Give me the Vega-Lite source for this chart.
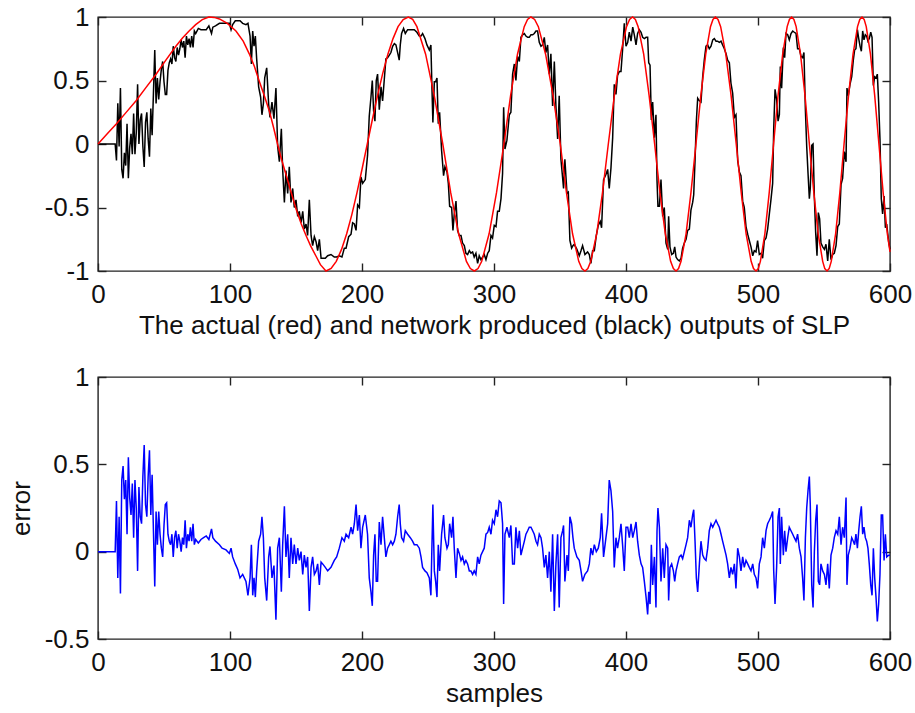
{
"$schema":"https://vega.github.io/schema/vega-lite/v6.json",
"background":"white",
"padding":{"left":7,"top":3,"right":10,"bottom":5},
"spacing":24,
"config":{"view":{"stroke":"#222","strokeWidth":1.4},"axis":{"grid":false,"domain":false,"labelFont":"Liberation Sans","labelFontSize":26,"labelColor":"#111","titleFont":"Liberation Sans","titleFontSize":26,"titleFontWeight":"normal","titleColor":"#111","tickColor":"#222","tickWidth":1.4,"tickSize":-8,"labelFlush":false,"labelOverlap":false}},
"datasets":{
"actual":[{"t":0,"v":0},{"t":7,"v":0.08},{"t":14,"v":0.16},{"t":21,"v":0.245},{"t":29,"v":0.343},{"t":36,"v":0.44},{"t":44,"v":0.549},{"t":51,"v":0.655},{"t":59,"v":0.77},{"t":64,"v":0.835},{"t":69,"v":0.89},{"t":74,"v":0.94},{"t":79,"v":0.98},{"t":84,"v":1},{"t":88,"v":0.997},{"t":92,"v":0.985},{"t":98,"v":0.95},{"t":104.5,"v":0.89},{"t":110,"v":0.81},{"t":114.6,"v":0.71},{"t":118.5,"v":0.61},{"t":122,"v":0.5},{"t":126,"v":0.38},{"t":129.8,"v":0.26},{"t":133,"v":0.13},{"t":136,"v":0},{"t":139,"v":-0.12},{"t":142.4,"v":-0.24},{"t":146,"v":-0.37},{"t":150,"v":-0.51},{"t":154,"v":-0.63},{"t":157.6,"v":-0.72},{"t":161,"v":-0.8},{"t":165,"v":-0.88},{"t":168.5,"v":-0.95},{"t":172.7,"v":-1},{"t":176.6,"v":-0.98},{"t":180.5,"v":-0.924},{"t":184.5,"v":-0.83},{"t":188.4,"v":-0.707},{"t":192.3,"v":-0.556},{"t":196.2,"v":-0.383},{"t":200.1,"v":-0.195},{"t":204,"v":0},{"t":207.9,"v":0.195},{"t":211.8,"v":0.383},{"t":215.7,"v":0.556},{"t":219.6,"v":0.707},{"t":223.5,"v":0.83},{"t":227.3,"v":0.924},{"t":231.2,"v":0.98},{"t":235.1,"v":1},{"t":238.4,"v":0.981},{"t":241.6,"v":0.924},{"t":248.2,"v":0.707},{"t":254.7,"v":0.383},{"t":261.2,"v":0},{"t":267.2,"v":-0.383},{"t":273.2,"v":-0.707},{"t":279.1,"v":-0.924},{"t":282.1,"v":-0.981},{"t":285.1,"v":-1},{"t":287.9,"v":-0.981},{"t":290.7,"v":-0.924},{"t":296.3,"v":-0.707},{"t":301.9,"v":-0.383},{"t":307.5,"v":0},{"t":312.6,"v":0.383},{"t":317.8,"v":0.707},{"t":322.9,"v":0.924},{"t":325.4,"v":0.981},{"t":328,"v":1},{"t":330.8,"v":0.981},{"t":333.6,"v":0.924},{"t":339.1,"v":0.707},{"t":344.7,"v":0.383},{"t":350.2,"v":0},{"t":354.9,"v":-0.383},{"t":359.5,"v":-0.707},{"t":364.2,"v":-0.924},{"t":366.6,"v":-0.981},{"t":368.9,"v":-1},{"t":371.1,"v":-0.981},{"t":373.3,"v":-0.924},{"t":377.8,"v":-0.707},{"t":382.2,"v":-0.383},{"t":386.6,"v":0},{"t":391.2,"v":0.383},{"t":395.8,"v":0.707},{"t":400.4,"v":0.924},{"t":402.7,"v":0.981},{"t":405,"v":1},{"t":407.1,"v":0.981},{"t":409.2,"v":0.924},{"t":413.4,"v":0.707},{"t":417.5,"v":0.383},{"t":421.7,"v":0},{"t":425.7,"v":-0.383},{"t":429.8,"v":-0.707},{"t":433.8,"v":-0.924},{"t":435.9,"v":-0.981},{"t":437.9,"v":-1},{"t":439.8,"v":-0.981},{"t":441.7,"v":-0.924},{"t":445.5,"v":-0.707},{"t":449.2,"v":-0.383},{"t":453,"v":0},{"t":456.7,"v":0.383},{"t":460.4,"v":0.707},{"t":464,"v":0.924},{"t":465.9,"v":0.981},{"t":467.7,"v":1},{"t":469.7,"v":0.981},{"t":471.7,"v":0.924},{"t":475.6,"v":0.707},{"t":479.6,"v":0.383},{"t":483.5,"v":0},{"t":487.3,"v":-0.383},{"t":491,"v":-0.707},{"t":494.8,"v":-0.924},{"t":496.6,"v":-0.981},{"t":498.5,"v":-1},{"t":500.2,"v":-0.981},{"t":501.8,"v":-0.924},{"t":505.2,"v":-0.707},{"t":508.5,"v":-0.383},{"t":511.8,"v":0},{"t":515.2,"v":0.383},{"t":518.7,"v":0.707},{"t":522.1,"v":0.924},{"t":523.8,"v":0.981},{"t":525.5,"v":1},{"t":527.2,"v":0.981},{"t":528.9,"v":0.924},{"t":532.2,"v":0.707},{"t":535.6,"v":0.383},{"t":538.9,"v":0},{"t":542.3,"v":-0.383},{"t":545.6,"v":-0.707},{"t":549,"v":-0.924},{"t":550.6,"v":-0.981},{"t":552.3,"v":-1},{"t":553.9,"v":-0.981},{"t":555.5,"v":-0.924},{"t":558.8,"v":-0.707},{"t":562,"v":-0.383},{"t":565.2,"v":0},{"t":568.6,"v":0.383},{"t":572,"v":0.707},{"t":575.4,"v":0.924},{"t":577.1,"v":0.981},{"t":578.8,"v":1},{"t":580.4,"v":0.981},{"t":582,"v":0.924},{"t":585.2,"v":0.707},{"t":588.4,"v":0.383},{"t":591.6,"v":0},{"t":594.8,"v":-0.383},{"t":598,"v":-0.707},{"t":600,"v":-0.85}],
"network":[{"t":0,"v":0},{"t":13,"v":0},{"t":14,"v":-0.13},{"t":15,"v":0.32},{"t":16,"v":-0.02},{"t":17,"v":0.44},{"t":18,"v":-0.2},{"t":19,"v":-0.27},{"t":20,"v":-0.07},{"t":21,"v":-0.17},{"t":22,"v":0.16},{"t":23,"v":-0.27},{"t":24,"v":-0.03},{"t":25,"v":0.08},{"t":26,"v":-0.08},{"t":27,"v":0.24},{"t":28,"v":-0.08},{"t":29,"v":0.09},{"t":30,"v":0.47},{"t":31,"v":0},{"t":32,"v":0.19},{"t":33,"v":0.24},{"t":34,"v":-0.02},{"t":35,"v":-0.18},{"t":36,"v":0.17},{"t":37,"v":0.25},{"t":38,"v":0.04},{"t":39,"v":-0.1},{"t":40,"v":0.28},{"t":41,"v":0.07},{"t":42,"v":0.4},{"t":43,"v":0.74},{"t":44,"v":0.32},{"t":45,"v":0.52},{"t":46,"v":0.35},{"t":47,"v":0.49},{"t":48,"v":0.59},{"t":49,"v":0.65},{"t":50,"v":0.49},{"t":51,"v":0.39},{"t":52,"v":0.39},{"t":53,"v":0.58},{"t":54,"v":0.64},{"t":55,"v":0.67},{"t":56,"v":0.63},{"t":57,"v":0.77},{"t":58,"v":0.68},{"t":59,"v":0.65},{"t":60,"v":0.76},{"t":61,"v":0.7},{"t":62,"v":0.75},{"t":63,"v":0.82},{"t":64,"v":0.76},{"t":65,"v":0.81},{"t":66,"v":0.68},{"t":67,"v":0.85},{"t":68,"v":0.78},{"t":69,"v":0.83},{"t":70,"v":0.76},{"t":71,"v":0.85},{"t":72,"v":0.76},{"t":73,"v":0.89},{"t":74,"v":0.87},{"t":76,"v":0.91},{"t":78,"v":0.9},{"t":80,"v":0.9},{"t":82,"v":0.9},{"t":84,"v":0.93},{"t":86,"v":0.87},{"t":87,"v":0.92},{"t":89,"v":0.93},{"t":92,"v":0.95},{"t":94,"v":0.95},{"t":97,"v":0.95},{"t":99.5,"v":0.95},{"t":100.8,"v":0.9},{"t":102,"v":0.94},{"t":104,"v":0.97},{"t":105.8,"v":0.97},{"t":107.6,"v":0.97},{"t":109.6,"v":0.95},{"t":112.1,"v":0.94},{"t":113.6,"v":0.95},{"t":115.2,"v":0.85},{"t":116.2,"v":0.63},{"t":117.2,"v":0.89},{"t":118.2,"v":0.77},{"t":119.2,"v":0.85},{"t":120.2,"v":0.67},{"t":121.7,"v":0.45},{"t":123.2,"v":0.37},{"t":124.2,"v":0.23},{"t":125.3,"v":0.32},{"t":126.3,"v":0.52},{"t":127.8,"v":0.6},{"t":129.3,"v":0.31},{"t":130.3,"v":0.21},{"t":131.8,"v":0.33},{"t":133.3,"v":0.2},{"t":134.8,"v":0.44},{"t":136.1,"v":-0.02},{"t":137.4,"v":-0.14},{"t":138.9,"v":0.12},{"t":139.9,"v":-0.2},{"t":141.2,"v":-0.46},{"t":142.4,"v":-0.21},{"t":143.7,"v":-0.39},{"t":144.9,"v":-0.18},{"t":146.2,"v":-0.46},{"t":147.5,"v":-0.35},{"t":148.7,"v":-0.5},{"t":150,"v":-0.44},{"t":151.3,"v":-0.57},{"t":152.5,"v":-0.53},{"t":153.8,"v":-0.62},{"t":155.1,"v":-0.53},{"t":156.3,"v":-0.67},{"t":157.6,"v":-0.63},{"t":158.8,"v":-0.72},{"t":160.1,"v":-0.44},{"t":161.4,"v":-0.72},{"t":162.6,"v":-0.8},{"t":163.9,"v":-0.73},{"t":165.2,"v":-0.77},{"t":166.4,"v":-0.84},{"t":167.7,"v":-0.75},{"t":169,"v":-0.9},{"t":170.2,"v":-0.9},{"t":172.2,"v":-0.9},{"t":174,"v":-0.88},{"t":176.5,"v":-0.87},{"t":179,"v":-0.89},{"t":180.8,"v":-0.89},{"t":182.8,"v":-0.88},{"t":184.8,"v":-0.89},{"t":186.6,"v":-0.82},{"t":187.9,"v":-0.82},{"t":189.9,"v":-0.73},{"t":191.7,"v":-0.71},{"t":192.9,"v":-0.62},{"t":194.2,"v":-0.63},{"t":195.5,"v":-0.68},{"t":196.7,"v":-0.48},{"t":198,"v":-0.5},{"t":199.2,"v":-0.26},{"t":200.5,"v":-0.31},{"t":202.5,"v":-0.28},{"t":204.2,"v":-0.09},{"t":205.5,"v":0.22},{"t":206.8,"v":0.37},{"t":207.8,"v":0.5},{"t":208.8,"v":0.26},{"t":209.8,"v":0.18},{"t":210.8,"v":0.5},{"t":211.8,"v":0.55},{"t":213.1,"v":0.27},{"t":214.4,"v":0.45},{"t":215.6,"v":0.34},{"t":216.9,"v":0.51},{"t":218.1,"v":0.67},{"t":219.4,"v":0.68},{"t":220.7,"v":0.7},{"t":221.9,"v":0.72},{"t":223.2,"v":0.77},{"t":224.5,"v":0.79},{"t":225.7,"v":0.78},{"t":227,"v":0.72},{"t":228.2,"v":0.66},{"t":229,"v":0.78},{"t":230,"v":0.87},{"t":231.5,"v":0.91},{"t":232.8,"v":0.87},{"t":234.6,"v":0.9},{"t":236.6,"v":0.9},{"t":238.3,"v":0.9},{"t":239.6,"v":0.9},{"t":241.6,"v":0.88},{"t":243.4,"v":0.85},{"t":244.7,"v":0.85},{"t":245.9,"v":0.87},{"t":247.7,"v":0.83},{"t":249.2,"v":0.78},{"t":251,"v":0.74},{"t":252.2,"v":0.78},{"t":253,"v":0.44},{"t":253.7,"v":0.17},{"t":254.8,"v":0.49},{"t":255.8,"v":0.49},{"t":256.8,"v":0.52},{"t":257.8,"v":0.16},{"t":258.8,"v":0.25},{"t":260.3,"v":-0.05},{"t":261.8,"v":-0.25},{"t":262.8,"v":-0.18},{"t":264.4,"v":-0.22},{"t":265.4,"v":-0.31},{"t":266.4,"v":-0.49},{"t":267.9,"v":-0.5},{"t":268.9,"v":-0.68},{"t":269.9,"v":-0.55},{"t":271.2,"v":-0.45},{"t":272.4,"v":-0.68},{"t":273.7,"v":-0.72},{"t":275,"v":-0.72},{"t":276.2,"v":-0.78},{"t":277.5,"v":-0.8},{"t":278.7,"v":-0.86},{"t":280,"v":-0.87},{"t":281.3,"v":-0.84},{"t":282.5,"v":-0.86},{"t":283.8,"v":-0.85},{"t":285,"v":-0.89},{"t":286.3,"v":-0.86},{"t":287.6,"v":-0.94},{"t":288.8,"v":-0.88},{"t":290.1,"v":-0.91},{"t":292.6,"v":-0.87},{"t":293.9,"v":-0.91},{"t":295.2,"v":-0.86},{"t":296.4,"v":-0.84},{"t":297.7,"v":-0.72},{"t":298.9,"v":-0.74},{"t":300.2,"v":-0.64},{"t":301.5,"v":-0.65},{"t":302.7,"v":-0.53},{"t":304,"v":-0.53},{"t":305.3,"v":-0.43},{"t":306.5,"v":-0.23},{"t":307.3,"v":0.29},{"t":308.3,"v":-0.04},{"t":309.8,"v":0.03},{"t":311.6,"v":0.23},{"t":312.8,"v":0.25},{"t":314.1,"v":0.55},{"t":315.4,"v":0.63},{"t":316.6,"v":0.5},{"t":317.9,"v":0.69},{"t":319.2,"v":0.65},{"t":320.4,"v":0.84},{"t":321.7,"v":0.86},{"t":323,"v":0.87},{"t":324.2,"v":0.85},{"t":325.5,"v":0.84},{"t":326.7,"v":0.84},{"t":328,"v":0.86},{"t":329.3,"v":0.86},{"t":330.5,"v":0.87},{"t":331.8,"v":0.89},{"t":333,"v":0.89},{"t":334.3,"v":0.8},{"t":335.6,"v":0.77},{"t":336.8,"v":0.78},{"t":338.1,"v":0.84},{"t":339.3,"v":0.72},{"t":340.6,"v":0.78},{"t":341.9,"v":0.55},{"t":343.1,"v":0.71},{"t":344.4,"v":0.3},{"t":345.7,"v":0.65},{"t":346.9,"v":0.3},{"t":348.2,"v":0.04},{"t":349.4,"v":0.38},{"t":350.7,"v":-0.12},{"t":352,"v":-0.27},{"t":352.7,"v":-0.35},{"t":353.7,"v":-0.12},{"t":355.3,"v":-0.39},{"t":356.3,"v":-0.38},{"t":357.5,"v":-0.76},{"t":358.8,"v":-0.82},{"t":359.8,"v":-0.8},{"t":360.8,"v":-0.79},{"t":362.8,"v":-0.83},{"t":364.6,"v":-0.88},{"t":365.9,"v":-0.84},{"t":367.1,"v":-0.8},{"t":368.9,"v":-0.87},{"t":370.9,"v":-0.85},{"t":372.2,"v":-0.87},{"t":373.4,"v":-0.94},{"t":374.7,"v":-0.84},{"t":376,"v":-0.84},{"t":377.5,"v":-0.72},{"t":379,"v":-0.64},{"t":380.5,"v":-0.61},{"t":381.5,"v":-0.66},{"t":383,"v":-0.28},{"t":384.8,"v":-0.24},{"t":386.1,"v":-0.2},{"t":387.3,"v":-0.35},{"t":388.6,"v":-0.19},{"t":389.9,"v":0.05},{"t":391.1,"v":0.47},{"t":392.4,"v":0.39},{"t":393.6,"v":0.54},{"t":394.9,"v":0.57},{"t":396.2,"v":0.57},{"t":397.4,"v":0.74},{"t":398.7,"v":0.95},{"t":400,"v":0.77},{"t":401.3,"v":0.8},{"t":402.5,"v":0.88},{"t":403.8,"v":0.81},{"t":405.1,"v":0.92},{"t":406.3,"v":0.86},{"t":407.6,"v":0.78},{"t":408.8,"v":0.87},{"t":410.1,"v":0.9},{"t":411.4,"v":0.88},{"t":412.6,"v":0.84},{"t":413.9,"v":0.83},{"t":415.2,"v":0.84},{"t":416.4,"v":0.84},{"t":417.2,"v":0.64},{"t":418.2,"v":0.62},{"t":419.2,"v":0.19},{"t":420.2,"v":0.33},{"t":421.5,"v":0.05},{"t":422.7,"v":0.23},{"t":423.5,"v":-0.29},{"t":424.2,"v":-0.49},{"t":425.3,"v":-0.49},{"t":426.5,"v":-0.28},{"t":427.8,"v":-0.57},{"t":429,"v":-0.5},{"t":430.3,"v":-0.78},{"t":431.6,"v":-0.83},{"t":432.3,"v":-0.57},{"t":433.3,"v":-0.81},{"t":434.6,"v":-0.87},{"t":435.9,"v":-0.86},{"t":436.9,"v":-0.81},{"t":437.9,"v":-0.89},{"t":439.1,"v":-0.91},{"t":440.4,"v":-0.92},{"t":441.7,"v":-0.9},{"t":442.9,"v":-0.82},{"t":444.2,"v":-0.78},{"t":445.5,"v":-0.75},{"t":446.7,"v":-0.68},{"t":448,"v":-0.67},{"t":449.2,"v":-0.52},{"t":450.5,"v":-0.46},{"t":451.3,"v":-0.4},{"t":452.3,"v":-0.13},{"t":453.3,"v":0.18},{"t":454.3,"v":0.36},{"t":455.6,"v":0.34},{"t":456.8,"v":0.33},{"t":458.1,"v":0.53},{"t":459.3,"v":0.66},{"t":460.6,"v":0.77},{"t":461.9,"v":0.78},{"t":463.1,"v":0.75},{"t":464.4,"v":0.77},{"t":465.7,"v":0.82},{"t":466.9,"v":0.83},{"t":468.2,"v":0.81},{"t":469.4,"v":0.81},{"t":470.7,"v":0.8},{"t":472,"v":0.81},{"t":473.2,"v":0.78},{"t":474.5,"v":0.75},{"t":475.8,"v":0.71},{"t":477,"v":0.66},{"t":478.3,"v":0.64},{"t":479.5,"v":0.48},{"t":480.8,"v":0.4},{"t":482.1,"v":0.21},{"t":483.3,"v":0.23},{"t":484.6,"v":-0.13},{"t":485.9,"v":-0.22},{"t":487.1,"v":-0.25},{"t":488.4,"v":-0.45},{"t":489.6,"v":-0.5},{"t":490.9,"v":-0.65},{"t":492.2,"v":-0.71},{"t":493.4,"v":-0.76},{"t":494.7,"v":-0.81},{"t":496,"v":-0.88},{"t":497.2,"v":-0.84},{"t":498.5,"v":-0.85},{"t":499.7,"v":-0.76},{"t":501,"v":-0.87},{"t":502.3,"v":-0.86},{"t":503.5,"v":-0.9},{"t":504.8,"v":-0.76},{"t":506.1,"v":-0.74},{"t":507.3,"v":-0.67},{"t":508.6,"v":-0.55},{"t":509.8,"v":-0.44},{"t":511.1,"v":-0.31},{"t":511.9,"v":0.12},{"t":512.9,"v":0.43},{"t":514.1,"v":0.35},{"t":515.2,"v":0.18},{"t":516.2,"v":0.23},{"t":516.9,"v":0.61},{"t":517.9,"v":0.44},{"t":519.2,"v":0.76},{"t":520.2,"v":0.68},{"t":521.2,"v":0.87},{"t":522.5,"v":0.86},{"t":523.7,"v":0.82},{"t":525,"v":0.87},{"t":526.3,"v":0.89},{"t":527.5,"v":0.88},{"t":528.8,"v":0.87},{"t":530,"v":0.75},{"t":531.3,"v":0.75},{"t":532.6,"v":0.69},{"t":533.8,"v":0.68},{"t":534.8,"v":0.72},{"t":535.9,"v":0.27},{"t":536.9,"v":-0.02},{"t":537.9,"v":-0.23},{"t":538.9,"v":-0.43},{"t":539.6,"v":-0.35},{"t":540.7,"v":-0.01},{"t":541.7,"v":0},{"t":542.7,"v":-0.42},{"t":543.7,"v":-0.7},{"t":544.7,"v":-0.88},{"t":545.7,"v":-0.54},{"t":546.7,"v":-0.59},{"t":547.7,"v":-0.78},{"t":549,"v":-0.81},{"t":550.3,"v":-0.83},{"t":551.5,"v":-0.79},{"t":552.8,"v":-0.92},{"t":554,"v":-0.75},{"t":555.3,"v":-0.91},{"t":556.6,"v":-0.87},{"t":557.8,"v":-0.86},{"t":559.1,"v":-0.8},{"t":560.4,"v":-0.65},{"t":561.6,"v":-0.63},{"t":562.9,"v":-0.32},{"t":564.1,"v":-0.27},{"t":565.4,"v":-0.06},{"t":566.7,"v":-0.14},{"t":567.4,"v":0.44},{"t":568.4,"v":0.38},{"t":569.7,"v":0.47},{"t":571,"v":0.53},{"t":572.2,"v":0.66},{"t":573.2,"v":0.74},{"t":574.2,"v":0.75},{"t":575.3,"v":0.9},{"t":576.3,"v":0.83},{"t":577.3,"v":0.77},{"t":578.3,"v":0.73},{"t":579.3,"v":0.89},{"t":580.3,"v":0.82},{"t":581.3,"v":0.86},{"t":582.3,"v":0.85},{"t":583.3,"v":0.81},{"t":584.3,"v":0.83},{"t":585.4,"v":0.88},{"t":586.4,"v":0.84},{"t":587.4,"v":0.46},{"t":588.4,"v":0.53},{"t":589.4,"v":0.52},{"t":590.4,"v":0.55},{"t":591.4,"v":0.33},{"t":592.4,"v":0.04},{"t":593.4,"v":-0.43},{"t":594.4,"v":-0.55},{"t":595.5,"v":-0.41},{"t":596.5,"v":-0.66},{"t":597.5,"v":-0.63},{"t":599,"v":-0.77},{"t":600,"v":-0.83}],
"error":[{"t":0,"v":0},{"t":13,"v":0},{"t":14,"v":0.29},{"t":15,"v":-0.15},{"t":16,"v":0.2},{"t":17,"v":-0.24},{"t":18,"v":0.41},{"t":19,"v":0.49},{"t":20,"v":0.3},{"t":21,"v":0.41},{"t":22,"v":0.1},{"t":23,"v":0.54},{"t":24,"v":0.31},{"t":25,"v":0.21},{"t":26,"v":0.39},{"t":27,"v":0.08},{"t":28,"v":0.41},{"t":29,"v":0.25},{"t":30,"v":-0.11},{"t":31,"v":0.37},{"t":32,"v":0.2},{"t":33,"v":0.16},{"t":34,"v":0.43},{"t":35,"v":0.61},{"t":36,"v":0.27},{"t":37,"v":0.2},{"t":38,"v":0.43},{"t":39,"v":0.58},{"t":40,"v":0.21},{"t":41,"v":0.44},{"t":42,"v":0.12},{"t":43,"v":-0.2},{"t":44,"v":0.23},{"t":45,"v":0.04},{"t":46,"v":0.23},{"t":47,"v":0.1},{"t":48,"v":0.02},{"t":49,"v":-0.03},{"t":50,"v":0.15},{"t":51,"v":0.27},{"t":52,"v":0.28},{"t":53,"v":0.1},{"t":54,"v":0.06},{"t":55,"v":0.04},{"t":56,"v":0.1},{"t":57,"v":-0.03},{"t":58,"v":0.08},{"t":59,"v":0.12},{"t":60,"v":0.02},{"t":61,"v":0.1},{"t":62,"v":0.06},{"t":63,"v":0},{"t":64,"v":0.08},{"t":65,"v":0.04},{"t":66,"v":0.18},{"t":67,"v":0.02},{"t":68,"v":0.1},{"t":69,"v":0.06},{"t":70,"v":0.14},{"t":71,"v":0.06},{"t":72,"v":0.16},{"t":73,"v":0.04},{"t":74,"v":0.07},{"t":76,"v":0.05},{"t":78,"v":0.07},{"t":80,"v":0.08},{"t":82,"v":0.09},{"t":84,"v":0.07},{"t":86,"v":0.13},{"t":87,"v":0.08},{"t":89,"v":0.06},{"t":92,"v":0.04},{"t":94,"v":0.02},{"t":97,"v":0.01},{"t":99.5,"v":-0.01},{"t":100.8,"v":0.02},{"t":102,"v":-0.03},{"t":104,"v":-0.07},{"t":105.8,"v":-0.1},{"t":107.6,"v":-0.15},{"t":109.6,"v":-0.13},{"t":112.1,"v":-0.17},{"t":113.6,"v":-0.25},{"t":115.2,"v":-0.15},{"t":116.2,"v":0.04},{"t":117.2,"v":-0.25},{"t":118.2,"v":-0.15},{"t":119.2,"v":-0.26},{"t":120.2,"v":-0.11},{"t":121.7,"v":0.06},{"t":123.2,"v":0.1},{"t":124.2,"v":0.2},{"t":125.3,"v":0.08},{"t":126.3,"v":-0.15},{"t":127.8,"v":-0.28},{"t":129.3,"v":-0.03},{"t":130.3,"v":0.03},{"t":131.8,"v":-0.15},{"t":133.3,"v":-0.08},{"t":134.8,"v":-0.39},{"t":136.1,"v":0.02},{"t":137.4,"v":0.08},{"t":138.9,"v":-0.23},{"t":139.9,"v":0.04},{"t":141.2,"v":0.26},{"t":142.4,"v":-0.03},{"t":143.7,"v":0.1},{"t":144.9,"v":-0.15},{"t":146.2,"v":0.08},{"t":147.5,"v":-0.07},{"t":148.7,"v":0.04},{"t":150,"v":-0.07},{"t":151.3,"v":0.02},{"t":152.5,"v":-0.05},{"t":153.8,"v":0},{"t":155.1,"v":-0.13},{"t":156.3,"v":-0.02},{"t":157.6,"v":-0.09},{"t":158.8,"v":-0.03},{"t":160.1,"v":-0.34},{"t":161.4,"v":-0.09},{"t":162.6,"v":-0.03},{"t":163.9,"v":-0.13},{"t":165.2,"v":-0.11},{"t":166.4,"v":-0.07},{"t":167.7,"v":-0.19},{"t":169,"v":-0.06},{"t":170.2,"v":-0.07},{"t":172.2,"v":-0.09},{"t":174,"v":-0.11},{"t":176.5,"v":-0.09},{"t":179,"v":-0.05},{"t":180.8,"v":-0.03},{"t":182.8,"v":0.02},{"t":184.8,"v":0.08},{"t":186.6,"v":0.06},{"t":187.9,"v":0.1},{"t":189.9,"v":0.08},{"t":191.7,"v":0.14},{"t":192.9,"v":0.1},{"t":194.2,"v":0.16},{"t":195.5,"v":0.27},{"t":196.7,"v":0.12},{"t":198,"v":0.21},{"t":199.2,"v":0.02},{"t":200.5,"v":0.14},{"t":202.5,"v":0.21},{"t":204.2,"v":0.1},{"t":205.5,"v":-0.15},{"t":206.8,"v":-0.23},{"t":207.8,"v":-0.31},{"t":208.8,"v":-0.02},{"t":209.8,"v":0.1},{"t":210.8,"v":-0.17},{"t":211.8,"v":-0.17},{"t":213.1,"v":0.17},{"t":214.4,"v":0.04},{"t":215.6,"v":0.2},{"t":216.9,"v":0.08},{"t":218.1,"v":-0.03},{"t":219.4,"v":0.02},{"t":220.7,"v":0.04},{"t":221.9,"v":0.06},{"t":223.2,"v":0.04},{"t":224.5,"v":0.06},{"t":225.7,"v":0.1},{"t":227,"v":0.2},{"t":228.2,"v":0.27},{"t":229,"v":0.16},{"t":230,"v":0.08},{"t":231.5,"v":0.06},{"t":232.8,"v":0.12},{"t":234.6,"v":0.1},{"t":236.6,"v":0.08},{"t":238.3,"v":0.06},{"t":239.6,"v":0.04},{"t":241.6,"v":0.04},{"t":243.4,"v":0.02},{"t":244.7,"v":-0.03},{"t":245.9,"v":-0.09},{"t":247.7,"v":-0.11},{"t":249.2,"v":-0.12},{"t":251,"v":-0.15},{"t":252.2,"v":-0.25},{"t":253,"v":0.04},{"t":253.7,"v":0.27},{"t":254.8,"v":-0.11},{"t":255.8,"v":-0.17},{"t":256.8,"v":-0.26},{"t":257.8,"v":0.04},{"t":258.8,"v":-0.11},{"t":260.3,"v":0.1},{"t":261.8,"v":0.21},{"t":262.8,"v":0.08},{"t":264.4,"v":0.02},{"t":265.4,"v":0.04},{"t":266.4,"v":0.16},{"t":267.9,"v":0.08},{"t":268.9,"v":0.2},{"t":269.9,"v":0.02},{"t":271.2,"v":-0.15},{"t":272.4,"v":0.02},{"t":273.7,"v":-0.01},{"t":275,"v":-0.05},{"t":276.2,"v":-0.03},{"t":277.5,"v":-0.07},{"t":278.7,"v":-0.05},{"t":280,"v":-0.07},{"t":281.3,"v":-0.11},{"t":282.5,"v":-0.11},{"t":283.8,"v":-0.13},{"t":285,"v":-0.11},{"t":286.3,"v":-0.13},{"t":287.6,"v":-0.03},{"t":288.8,"v":-0.07},{"t":290.1,"v":-0.02},{"t":292.6,"v":0.02},{"t":293.9,"v":0.1},{"t":295.2,"v":0.11},{"t":296.4,"v":0.14},{"t":297.7,"v":0.1},{"t":298.9,"v":0.18},{"t":300.2,"v":0.16},{"t":301.5,"v":0.24},{"t":302.7,"v":0.2},{"t":304,"v":0.29},{"t":305.3,"v":0.28},{"t":306.5,"v":0.16},{"t":307.3,"v":-0.3},{"t":308.3,"v":0.1},{"t":309.8,"v":0.14},{"t":311.6,"v":0.08},{"t":312.8,"v":0.15},{"t":314.1,"v":-0.07},{"t":315.4,"v":-0.07},{"t":316.6,"v":0.14},{"t":317.9,"v":0.02},{"t":319.2,"v":0.12},{"t":320.4,"v":-0.02},{"t":321.7,"v":0.02},{"t":323,"v":0.06},{"t":324.2,"v":0.1},{"t":325.5,"v":0.12},{"t":326.7,"v":0.14},{"t":328,"v":0.14},{"t":329.3,"v":0.12},{"t":330.5,"v":0.1},{"t":331.8,"v":0.06},{"t":333,"v":0.04},{"t":334.3,"v":0.1},{"t":335.6,"v":0.08},{"t":336.8,"v":0.02},{"t":338.1,"v":-0.09},{"t":339.3,"v":-0.02},{"t":340.6,"v":-0.15},{"t":341.9,"v":0},{"t":343.1,"v":-0.23},{"t":344.4,"v":0.1},{"t":345.7,"v":-0.34},{"t":346.9,"v":-0.07},{"t":348.2,"v":0.1},{"t":349.4,"v":-0.32},{"t":350.7,"v":0.08},{"t":352,"v":0.12},{"t":352.7,"v":0.15},{"t":353.7,"v":-0.17},{"t":355.3,"v":-0.02},{"t":356.3,"v":-0.11},{"t":357.5,"v":0.2},{"t":358.8,"v":0.16},{"t":359.8,"v":0.08},{"t":360.8,"v":0.02},{"t":362.8,"v":-0.03},{"t":364.6,"v":-0.05},{"t":365.9,"v":-0.11},{"t":367.1,"v":-0.17},{"t":368.9,"v":-0.13},{"t":370.9,"v":-0.11},{"t":372.2,"v":-0.07},{"t":373.4,"v":0.02},{"t":374.7,"v":-0.02},{"t":376,"v":0.04},{"t":377.5,"v":0},{"t":379,"v":0.02},{"t":380.5,"v":0.08},{"t":381.5,"v":0.22},{"t":383,"v":-0.03},{"t":384.8,"v":0.08},{"t":386.1,"v":0.16},{"t":387.3,"v":0.41},{"t":388.6,"v":0.35},{"t":389.9,"v":0.23},{"t":391.1,"v":-0.09},{"t":392.4,"v":0.08},{"t":393.6,"v":0.02},{"t":394.9,"v":0.08},{"t":396.2,"v":0.16},{"t":397.4,"v":0.04},{"t":398.7,"v":-0.11},{"t":400,"v":0.14},{"t":401.3,"v":0.14},{"t":402.5,"v":0.08},{"t":403.8,"v":0.16},{"t":405.1,"v":0.08},{"t":406.3,"v":0.12},{"t":407.6,"v":0.17},{"t":408.8,"v":0.06},{"t":410.1,"v":-0.02},{"t":411.4,"v":-0.07},{"t":412.6,"v":-0.09},{"t":413.9,"v":-0.17},{"t":415.2,"v":-0.26},{"t":416.4,"v":-0.36},{"t":417.2,"v":-0.23},{"t":418.2,"v":-0.3},{"t":419.2,"v":0.04},{"t":420.2,"v":-0.19},{"t":421.5,"v":-0.03},{"t":422.7,"v":-0.32},{"t":423.5,"v":0.12},{"t":424.2,"v":0.25},{"t":425.3,"v":0.14},{"t":426.5,"v":-0.17},{"t":427.8,"v":0.02},{"t":429,"v":-0.15},{"t":430.3,"v":0.04},{"t":431.6,"v":0.02},{"t":432.3,"v":-0.28},{"t":433.3,"v":-0.09},{"t":434.6,"v":-0.07},{"t":435.9,"v":-0.11},{"t":436.9,"v":-0.17},{"t":437.9,"v":-0.11},{"t":439.1,"v":-0.07},{"t":440.4,"v":-0.03},{"t":441.7,"v":-0.02},{"t":442.9,"v":-0.04},{"t":444.2,"v":0},{"t":445.5,"v":0.04},{"t":446.7,"v":0.08},{"t":448,"v":0.18},{"t":449.2,"v":0.14},{"t":450.5,"v":0.21},{"t":451.3,"v":0.24},{"t":452.3,"v":0.06},{"t":453.3,"v":-0.15},{"t":454.3,"v":-0.23},{"t":455.6,"v":-0.07},{"t":456.8,"v":0.06},{"t":458.1,"v":-0.02},{"t":459.3,"v":-0.04},{"t":460.6,"v":-0.05},{"t":461.9,"v":0.02},{"t":463.1,"v":0.12},{"t":464.4,"v":0.16},{"t":465.7,"v":0.14},{"t":466.9,"v":0.16},{"t":468.2,"v":0.18},{"t":469.4,"v":0.16},{"t":470.7,"v":0.14},{"t":472,"v":0.1},{"t":473.2,"v":0.06},{"t":474.5,"v":0.02},{"t":475.8,"v":-0.02},{"t":477,"v":-0.07},{"t":478.3,"v":-0.15},{"t":479.5,"v":-0.09},{"t":480.8,"v":-0.13},{"t":482.1,"v":-0.07},{"t":483.3,"v":-0.21},{"t":484.6,"v":0.02},{"t":485.9,"v":-0.03},{"t":487.1,"v":-0.11},{"t":488.4,"v":-0.03},{"t":489.6,"v":-0.09},{"t":490.9,"v":-0.05},{"t":492.2,"v":-0.07},{"t":493.4,"v":-0.09},{"t":494.7,"v":-0.11},{"t":496,"v":-0.07},{"t":497.2,"v":-0.13},{"t":498.5,"v":-0.15},{"t":499.7,"v":-0.21},{"t":501,"v":-0.07},{"t":502.3,"v":-0.03},{"t":503.5,"v":0.08},{"t":504.8,"v":0.02},{"t":506.1,"v":0.12},{"t":507.3,"v":0.16},{"t":508.6,"v":0.18},{"t":509.8,"v":0.2},{"t":511.1,"v":0.23},{"t":511.9,"v":-0.11},{"t":512.9,"v":-0.3},{"t":514.1,"v":-0.09},{"t":515.2,"v":0.2},{"t":516.2,"v":0.25},{"t":516.9,"v":-0.07},{"t":517.9,"v":0.2},{"t":519.2,"v":-0.02},{"t":520.2,"v":0.12},{"t":521.2,"v":0},{"t":522.5,"v":0.08},{"t":523.7,"v":0.14},{"t":525,"v":0.12},{"t":526.3,"v":0.1},{"t":527.5,"v":0.08},{"t":528.8,"v":0.06},{"t":530,"v":0.1},{"t":531.3,"v":0.02},{"t":532.6,"v":-0.03},{"t":533.8,"v":-0.15},{"t":534.8,"v":-0.28},{"t":535.9,"v":0.08},{"t":536.9,"v":0.25},{"t":537.9,"v":0.35},{"t":538.9,"v":0.43},{"t":539.6,"v":0.27},{"t":540.7,"v":-0.19},{"t":541.7,"v":-0.32},{"t":542.7,"v":0},{"t":543.7,"v":0.18},{"t":544.7,"v":0.27},{"t":545.7,"v":-0.17},{"t":546.7,"v":-0.19},{"t":547.7,"v":-0.07},{"t":549,"v":-0.11},{"t":550.3,"v":-0.13},{"t":551.5,"v":-0.19},{"t":552.8,"v":-0.07},{"t":554,"v":-0.21},{"t":555.3,"v":-0.02},{"t":556.6,"v":0.02},{"t":557.8,"v":0.08},{"t":559.1,"v":0.12},{"t":560.4,"v":0.1},{"t":561.6,"v":0.2},{"t":562.9,"v":0.04},{"t":564.1,"v":0.14},{"t":565.4,"v":0.08},{"t":566.7,"v":0.31},{"t":567.4,"v":-0.19},{"t":568.4,"v":-0.02},{"t":569.7,"v":0.02},{"t":571,"v":0.08},{"t":572.2,"v":0.06},{"t":573.2,"v":0.04},{"t":574.2,"v":0.1},{"t":575.3,"v":0.02},{"t":576.3,"v":0.12},{"t":577.3,"v":0.2},{"t":578.3,"v":0.26},{"t":579.3,"v":0.1},{"t":580.3,"v":0.14},{"t":581.3,"v":0.08},{"t":582.3,"v":0.06},{"t":583.3,"v":0.02},{"t":584.3,"v":-0.07},{"t":585.4,"v":-0.19},{"t":586.4,"v":-0.25},{"t":587.4,"v":0.02},{"t":588.4,"v":-0.15},{"t":589.4,"v":-0.26},{"t":590.4,"v":-0.4},{"t":591.4,"v":-0.3},{"t":592.4,"v":-0.13},{"t":593.4,"v":0.21},{"t":594.4,"v":0.21},{"t":595.5,"v":-0.05},{"t":596.5,"v":0.1},{"t":597.5,"v":-0.03},{"t":599,"v":-0.02},{"t":600,"v":-0.02}]
},
"vconcat":[
{"width":792,"height":254,
"layer":[
{"data":{"name":"network"},"mark":{"type":"line","color":"#000","strokeWidth":1.5},
"encoding":{"x":{"field":"t","type":"quantitative","scale":{"domain":[0,600],"nice":false,"zero":false},"axis":{"orient":"bottom","values":[0,100,200,300,400,500,600],"title":"The actual (red) and network produced (black) outputs of SLP","labelPadding":18,"titlePadding":5}},
"y":{"field":"v","type":"quantitative","scale":{"domain":[-1,1],"nice":false},"axis":{"orient":"left","values":[-1,-0.5,0,0.5,1],"labelExpr":"'' + datum.value","title":null,"labelPadding":17}}}},
{"data":{"name":"actual"},"mark":{"type":"line","color":"#ff0000","strokeWidth":1.5},
"encoding":{"x":{"field":"t","type":"quantitative","axis":{"orient":"top","values":[0,100,200,300,400,500,600],"labels":false,"title":null}},
"y":{"field":"v","type":"quantitative","axis":{"orient":"right","values":[-1,-0.5,0,0.5,1],"labels":false,"title":null}}}}
],
"resolve":{"axis":{"x":"independent","y":"independent"}}},
{"width":792,"height":262,
"layer":[
{"data":{"name":"error"},"mark":{"type":"line","color":"#0000ff","strokeWidth":1.5},
"encoding":{"x":{"field":"t","type":"quantitative","scale":{"domain":[0,600],"nice":false,"zero":false},"axis":{"orient":"bottom","values":[0,100,200,300,400,500,600],"title":"samples","labelPadding":18,"titlePadding":5}},
"y":{"field":"v","type":"quantitative","scale":{"domain":[-0.5,1],"nice":false},"axis":{"orient":"left","values":[-0.5,0,0.5,1],"labelExpr":"'' + datum.value","title":"error","labelPadding":17,"titlePadding":10}}}},
{"data":{"name":"error"},"mark":{"type":"rule","opacity":0},
"encoding":{"x":{"field":"t","type":"quantitative","axis":{"orient":"top","values":[0,100,200,300,400,500,600],"labels":false,"title":null}},
"y":{"field":"v","type":"quantitative","axis":{"orient":"right","values":[-0.5,0,0.5,1],"labels":false,"title":null}}}}
],
"resolve":{"axis":{"x":"independent","y":"independent"}}}
]
}
